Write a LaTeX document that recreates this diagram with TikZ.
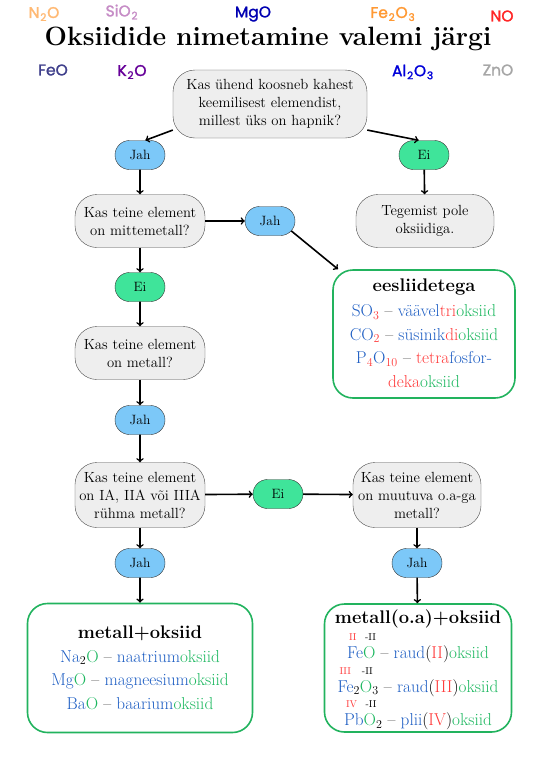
\documentclass[tikz,border=0pt]{standalone}
\usepackage{fontspec}
\newfontfamily\decofont{Poppins}[FakeBold=1.6]
\usetikzlibrary{shapes.misc}
\definecolor{pillblue}{HTML}{7CC8F8}
\definecolor{pillgreen}{HTML}{3FE49A}
\definecolor{qgray}{HTML}{EEEEEE}
\definecolor{boxgreen}{HTML}{22B35E}
\definecolor{elblue}{HTML}{1F5FC4}
\definecolor{elred}{HTML}{FF3B3B}
\definecolor{elgreen}{HTML}{1DB860}
\newcommand\elb[1]{\textcolor{elblue}{#1}}
\newcommand\elr[1]{\textcolor{elred}{#1}}
\newcommand\elg[1]{\textcolor{elgreen}{#1}}
\newcommand\decosub[1]{\kern0.8pt\raisebox{-3pt}{\fontsize{10.5}{10.5}\selectfont #1}\kern0.8pt}
\newcommand\oxup[2]{\makebox[0pt][l]{\hspace{2pt}\raisebox{1.05em}{\fontsize{10}{10}\selectfont #1}}#2}
\tikzset{
  question/.style={rectangle, rounded corners=22pt, draw=black!70, fill=qgray, align=center,
    font=\fontsize{14.7}{18}\selectfont, inner sep=0pt},
  pill/.style={rounded rectangle, draw=black!80, minimum width=50pt, minimum height=29pt,
    inner sep=0pt, font=\fontsize{13.5}{15}\selectfont},
  jah/.style={pill, fill=pillblue},
  ei/.style={pill, fill=pillgreen},
  namebox/.style={rectangle, rounded corners=20pt, draw=boxgreen, line width=1.6pt, inner sep=0pt},
  boxtext/.style={align=center, font=\fontsize{17.2}{23.5}\selectfont},
  boxtitle/.style={font=\fontsize{18.3}{20}\selectfont\bfseries},
  deco/.style={font=\decofont\fontsize{15.5}{15.5}\selectfont, inner sep=0pt},
  flow/.style={->, line width=1.6pt},
}

\begin{document}
\begin{tikzpicture}[x=1pt, y=-1pt]
      \useasboundingbox[fill=white] (0,0) rectangle (536,758);

      % vormelid pealkirja ümber
      \node[deco, text=orange!55] (n2o) at (44,14) {N\decosub{2}O};
      \node[deco, text=violet!45] (sio2) at (122,12) {SiO\decosub{2}};
      \node[deco, text=blue!70!black] (mgo) at (253,14) {MgO};
      \node[deco, text=orange!80] (fe2o3) at (393,14) {Fe\decosub{2}O\decosub{3}};
      \node[deco, text=red!85] (no) at (502,16) {NO};
      \node[deco, text=blue!40!black!75] (feo) at (53,70) {FeO};
      \node[deco, text=violet!80!blue] (k2o) at (132,72) {K\decosub{2}O};
      \node[deco, text=blue!85!black] (al2o3) at (413,72) {Al\decosub{2}O\decosub{3}};
      \node[deco, text=black!35] (zno) at (498,70) {ZnO};

      \node[font=\fontsize{26.5}{30}\selectfont\bfseries, inner sep=0pt] (title) at (268,39) {Oksiidide nimetamine valemi järgi};

      % küsimused
      \node[question, minimum width=194pt, minimum height=68pt] (q1) at (270,104) {Kas ühend koosneb kahest\\keemilisest elemendist,\\millest üks on hapnik?};
      \node[question, minimum width=130pt, minimum height=53pt] (q2) at (140,221) {Kas teine element\\on mittemetall?};
      \node[question, minimum width=138pt, minimum height=53pt] (teg) at (425,221) {Tegemist pole\\oksiidiga.};
      \node[question, minimum width=130pt, minimum height=53pt] (q3) at (140,353) {Kas teine element\\on metall?};
      \node[question, minimum width=130pt, minimum height=65pt] (q4) at (140,495) {Kas teine element\\on IA, IIA või IIIA\\rühma metall?};
      \node[question, minimum width=128pt, minimum height=65pt] (q5) at (417,495) {Kas teine element\\on muutuva o.a-ga\\metall?};

      % vastused
      \node[jah] (jah1) at (140,155) {Jah};
      \node[ei] (ei1) at (424,155) {Ei};
      \node[jah] (jah2) at (270,221) {Jah};
      \node[ei] (ei2) at (140,287) {Ei};
      \node[jah] (jah3) at (140,420) {Jah};
      \node[ei] (ei3) at (278,494) {Ei};
      \node[jah] (jah4) at (140,563) {Jah};
      \node[jah] (jah5) at (417,563) {Jah};

      % eesliidetega
      \node[namebox, minimum width=182pt, minimum height=128pt] (eesl) at (424,334) {};
      \node[boxtitle] (eesltitle) at (424,287) {eesliidetega};
      \node[boxtext] (eesltext) at (424,346) {%
        \elb{SO}\textsubscript{\elr{3}} -- \elb{väävel}\elr{tri}\elg{oksiid}\\
        \elb{CO}\textsubscript{\elr{2}} -- \elb{süsinik}\elr{di}\elg{oksiid}\\
        \elb{P}\textsubscript{\elr{4}}\elb{O}\textsubscript{\elr{10}} -- \elr{tetra}\elb{fosfor-}\\
        \elr{deka}\elg{oksiid}};

      % metall+oksiid
      \node[namebox, minimum width=225pt, minimum height=129pt] (mo) at (140,668) {};
      \node[boxtitle] (motitle) at (140,633) {metall+oksiid};
      \node[boxtext] (motext) at (140,680) {%
        \elb{Na}\textsubscript{2}\elg{O} -- \elb{naatrium}\elg{oksiid}\\
        \elb{Mg}\elg{O} -- \elb{magneesium}\elg{oksiid}\\
        \elb{Ba}\elg{O} -- \elb{baarium}\elg{oksiid}};

      % metall(o.a)+oksiid
      \node[namebox, minimum width=187pt, minimum height=128pt] (moa) at (418,668) {};
      \node[boxtitle] (moatitle) at (418,619) {metall(o.a)+oksiid};
      \node[boxtext, font=\fontsize{17.2}{33.5}\selectfont] (moatext) at (418,682) {%
        \oxup{\elr{II}}{\elb{Fe}}\oxup{-II}{\elg{O}} -- \elb{raud}(\elr{II})\elg{oksiid}\\
        \oxup{\elr{III}}{\elb{Fe}}\textsubscript{2}\oxup{-II}{\elg{O}}\textsubscript{3} -- \elb{raud}(\elr{III})\elg{oksiid}\\
        \oxup{\elr{IV}}{\elb{Pb}}\oxup{-II}{\elg{O}}\textsubscript{2} -- \elb{plii}(\elr{IV})\elg{oksiid}};

      % nooled
      \draw[flow] (q1.195) -- (jah1.70);
      \draw[flow] (q1.-15) -- (ei1.110);
      \draw[flow] (jah2.-25) -- (eesl.143);
      \foreach \a/\b in {jah1/q2, ei1/teg, q2/jah2, q2/ei2, ei2/q3, q3/jah3, jah3/q4,
                         q4/ei3, ei3/q5, q4/jah4, q5/jah5, jah4/mo, jah5/moa} {
          \draw[flow] (\a) -- (\b);
      }
    \end{tikzpicture}
\end{document}
